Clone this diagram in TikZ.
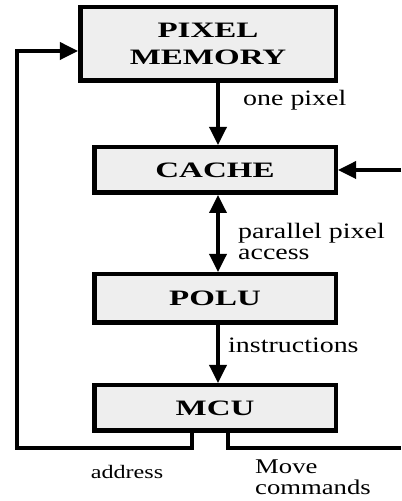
\documentclass[tikz,border=0pt]{standalone}
\usepackage{fontspec}
\setmainfont[FakeStretch=1.27]{Liberation Serif}
\newfontfamily\unitfont[FakeStretch=1.5]{Liberation Serif}
\usetikzlibrary{arrows.meta, positioning, calc}
\definecolor{boxgray}{HTML}{EEEEEE}

\begin{document}
\begin{tikzpicture}[
  x=1bp, y=1bp,
  every node/.style={font=\fontsize{22bp}{22bp}\selectfont},
  unit/.style={rectangle, draw=black, line width=4.5bp, fill=boxgray, align=center, inner sep=0pt, minimum width=241.5bp, minimum height=45.5bp, font=\unitfont\bfseries\fontsize{22bp}{27bp}\selectfont},
  tag/.style={align=left, inner sep=0pt},
  line/.style={-{Triangle[length=18bp, width=17bp]}, line width=3.5bp},
  both/.style={{Triangle[length=18bp, width=17bp]}-{Triangle[length=18bp, width=17bp]}, line width=3.5bp},
  wire/.style={line width=3.5bp}
]
\useasboundingbox (0,0) rectangle (401,501);
\node[unit, minimum width=255.5bp, minimum height=73.5bp] (pm) at (208,457) {PIXEL\\MEMORY};
\node[unit] (cache) at (215,331) {CACHE};
\node[unit, minimum height=48.5bp] (polu) at (215,202.5) {POLU};
\node[unit] (mcu) at (215,93) {MCU};

\coordinate (bus) at (218,0);
\coordinate (loopl) at (17,53);
\coordinate (cmdout) at (401,53);
\coordinate (cmdin) at (401,331);

\draw[line] (pm.south -| bus) -- (cache.north -| bus);
\draw[both] (cache.south -| bus) -- (polu.north -| bus);
\draw[line] (polu.south -| bus) -- (mcu.north -| bus);
\draw[line] (cmdin) -- (cache.east);
\draw[line] (mcu.south -| 192,0) |- (loopl) |- (pm.west |- 0,450);
\draw[wire] (mcu.south -| 228,0) |- (cmdout);

\node[tag, anchor=west] (onepix) at (243,401) {one pixel};
\node[tag, anchor=west, font=\fontsize{22bp}{21bp}\selectfont] (access) at (238,260) {parallel pixel\\access};
\node[tag, anchor=west] (instr) at (228,156) {instructions};
\node[tag, font=\fontsize{19bp}{19bp}\selectfont] (addr) at (127,29) {address};
\node[tag, anchor=north west, font=\fontsize{21bp}{21bp}\selectfont] (move) at (255,41) {Move\\commands};
\end{tikzpicture}
\end{document}
